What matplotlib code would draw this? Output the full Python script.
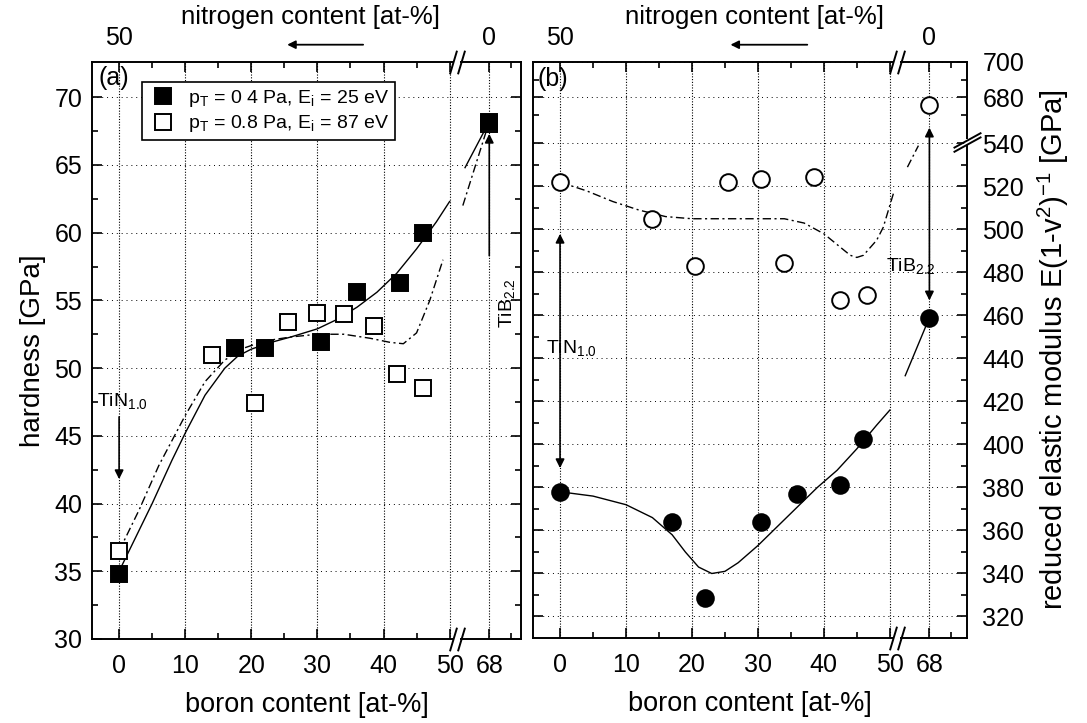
import numpy as np
import matplotlib
matplotlib.use("Agg")
import matplotlib.pyplot as plt
from matplotlib.path import Path
from matplotlib import transforms

plt.rcParams['font.family'] = ['Liberation Sans', 'DejaVu Sans']
plt.rcParams['mathtext.fontset'] = 'custom'
plt.rcParams['mathtext.rm'] = 'Liberation Sans'
plt.rcParams['mathtext.it'] = 'Liberation Sans:italic'

# (a) hardness, filled: p_T = 0.4 Pa, open: p_T = 0.8 Pa; 68 at-% B = TiB2.2
boron_h_filled = [0, 17.5, 22, 30.5, 36, 42.5, 46, 68]
hardness_filled = [34.8, 51.5, 51.5, 51.9, 55.6, 56.3, 60.0, 68.2]
boron_h_open = [0, 14, 20.5, 25.5, 30, 34, 38.5, 42, 46, 68]
hardness_open = [36.5, 51.0, 47.4, 53.4, 54.1, 54.0, 53.1, 49.6, 48.5, 68.0]

# fitted guide lines for the hardness (nan = gap at the axis break)
fit_h_x = [0, 2, 5, 8, 10, 13, 16, 18, 20, 23, 26, 30, 33, 36, 39, 42, 45, 48, 50, np.nan, 57, 68]
fit_h_filled = [35.0, 37.0, 40.0, 43.2, 45.2, 48.0, 50.0, 50.9, 51.4, 51.9, 52.3, 52.9, 53.6,
                54.5, 55.6, 57.0, 58.8, 60.8, 62.3, np.nan, 64.8, 68.2]
fit_h2_x = [0, 3, 6, 10, 13, 16, 19, 22, 26, 30, 34, 38, 41, 43, 45, 47, 49, np.nan, 56, 68]
fit_h_open = [36.5, 39.5, 42.8, 46.5, 49.0, 50.6, 51.5, 52.0, 52.3, 52.5, 52.5, 52.2, 51.9,
              51.8, 52.6, 55.0, 58.0, np.nan, 62.0, 68.2]

# (b) reduced elastic modulus [GPa]
boron_e_filled = [0, 17, 22, 30.5, 36, 42.5, 46, 68]
modulus_filled = [378, 364, 328.5, 364, 377, 381, 402.5, 459]
boron_e_open = [0, 14, 20.5, 25.5, 30.5, 34, 38.5, 42.5, 46.5, 68]
modulus_open = [522, 505, 483, 522, 523.5, 484.5, 524.5, 467, 469.5, 676]

fit_e_x = [0, 5, 10, 14, 17, 19, 21, 23, 25, 27, 30, 33, 36, 39, 42, 45, 48, 50, np.nan, 57, 68]
fit_e_filled = [378, 376, 372, 366, 358, 350, 343, 340, 341, 345, 353, 362, 371, 380, 388, 398,
                409, 416, np.nan, 432, 459]
fit_e2_x = [0, 4, 8, 12, 16, 20, 25, 30, 34, 37, 40, 42, 44, 45, 46, 48, 49, 52, np.nan, 58, 63]
fit_e_open = [522, 518, 513, 509, 506, 505, 505, 505, 505, 503, 498, 493, 488, 487, 488, 495,
              501, 518, np.nan, 529, 539]


def boron_fwd(x):
    x = np.asarray(x, dtype=float)
    return np.where(x <= 50, x, 50 + (x - 50) / 3.0)


def boron_inv(p):
    p = np.asarray(p, dtype=float)
    return np.where(p <= 50, p, 50 + (p - 50) * 3.0)


def mod_fwd(v):
    v = np.asarray(v, dtype=float)
    mid = 540 + (v - 540) * (4.9 / 120.0)
    top = 561.4 + (v - 680) * 0.825
    return np.where(v <= 540, v, np.where(v <= 660, mid, top))


def mod_inv(p):
    p = np.asarray(p, dtype=float)
    mid = 540 + (p - 540) * (120.0 / 4.9)
    top = 680 + (p - 561.4) / 0.825
    return np.where(p <= 540, p, np.where(p <= 544.9, mid, top))


slash = Path([(-0.32, -0.5), (-0.02, 0.5), (0.02, -0.5), (0.32, 0.5)],
             [Path.MOVETO, Path.LINETO, Path.MOVETO, Path.LINETO])
flat_slash = Path([(-0.5, -0.35), (0.5, 0.2), (-0.5, -0.2), (0.5, 0.35)],
                  [Path.MOVETO, Path.LINETO, Path.MOVETO, Path.LINETO])


def break_marks(ax, xb):
    tr = transforms.blended_transform_factory(ax.transData, ax.transAxes)
    for yb in (0, 1):
        ax.plot([xb], [yb], transform=tr, marker='_', ms=4, mew=4, color='white',
                clip_on=False, zorder=6)
        ax.plot([xb], [yb], transform=tr, marker=slash, ms=17, mew=1.4, color='k',
                mfc='none', clip_on=False, zorder=7)


def style_axis(ax):
    for sp in ax.spines.values():
        sp.set_linewidth(1.4)
    ax.tick_params(which='both', direction='in', top=True, right=True, width=1.2,
                   labelsize=18)
    ax.tick_params(which='major', length=7)
    ax.tick_params(which='minor', length=4)
    ax.tick_params(axis='x', pad=11)
    ax.tick_params(axis='y', pad=7)
    ax.grid(True, which='major', axis='x', color='k', lw=0.8, linestyle=(0, (1, 1.5)))
    ax.grid(True, which='major', axis='y', color='k', lw=0.7, linestyle=(0, (1, 4)))
    ax.set_axisbelow(True)
    ax.set_xscale('function', functions=(boron_fwd, boron_inv))
    ax.set_xticks([0, 10, 20, 30, 40, 50, 68])
    ax.set_xticklabels(['0', '10', '20', '30', '40', '50', '68'])
    ax.set_xticks([5, 15, 25, 35, 45, 78], minor=True)
    ax.set_xlabel('boron content [at-%]', fontsize=19.5, labelpad=10)
    break_marks(ax, 53.2)
    top = transforms.blended_transform_factory(ax.transData, ax.transAxes)
    ax.text(0, 1.042, '50', transform=top, ha='center', va='center', fontsize=18)
    ax.text(68, 1.042, '0', transform=top, ha='center', va='center', fontsize=18)
    ax.text(0.51, 1.078, 'nitrogen content [at-%]', transform=ax.transAxes,
            ha='center', va='center', fontsize=18.5)
    ax.annotate('', xy=(0.455, 1.03), xytext=(0.632, 1.03), xycoords='axes fraction',
                arrowprops=dict(arrowstyle='-|>', lw=1.3, color='k', mutation_scale=12,
                                shrinkA=0, shrinkB=0), annotation_clip=False)


arrow_kw = dict(arrowstyle='-|>', lw=1.2, color='k', mutation_scale=13, shrinkA=0, shrinkB=0)
both_kw = dict(arrowstyle='<|-|>', lw=1.2, color='k', mutation_scale=13, shrinkA=0, shrinkB=0)

fig = plt.figure(figsize=(10.87, 7.23), dpi=100)
ax1 = fig.add_axes([92 / 1087, 1 - 639 / 723, (521 - 92) / 1087, (639 - 62) / 723])
ax2 = fig.add_axes([533 / 1087, 1 - 638 / 723, (967 - 533) / 1087, (638 - 62) / 723])

# (a) hardness
style_axis(ax1)
ax1.set_xlim(-4.1, 82.4)
ax1.set_ylim(30, 72.6)
ax1.set_yticks(np.arange(30, 71, 5))
ax1.set_yticks(np.arange(32.5, 71, 5), minor=True)
ax1.set_ylabel('hardness [GPa]', fontsize=20, labelpad=6)

ax1.plot(fit_h_x, fit_h_filled, color='k', lw=1.0)
ax1.plot(fit_h2_x, fit_h_open, color='k', lw=1.0, linestyle=(0, (6, 2.5, 1.5, 2.5)))
ax1.plot(boron_h_open, hardness_open, 's', ms=11.5, mfc='white', mec='k', mew=1.4,
         label=r'p$_{\rm T}$ = 0.8 Pa, E$_{\rm i}$ = 87 eV')
ax1.plot(boron_h_filled, hardness_filled, 's', ms=11.5, mfc='k', mec='k', mew=1.4,
         label=r'p$_{\rm T}$ = 0 4 Pa, E$_{\rm i}$ = 25 eV')
handles, labels = ax1.get_legend_handles_labels()
leg = ax1.legend(handles[::-1], labels[::-1], loc='upper left', bbox_to_anchor=(0.117, 0.965),
                 borderaxespad=0, fontsize=14, frameon=True, fancybox=False,
                 edgecolor='k', framealpha=1, markerscale=1.0, handletextpad=0.55,
                 handlelength=1.5, borderpad=0.3, labelspacing=0.22)
leg.get_frame().set_linewidth(1.2)

ax1.text(0.05, 0.972, '(a)', transform=ax1.transAxes, ha='center', va='center', fontsize=18)
ax1.text(-3.3, 47.6, r'TiN$_{1.0}$', ha='left', va='center', fontsize=14)
ax1.annotate('', xy=(0, 41.8), xytext=(0, 46.4), arrowprops=arrow_kw)
ax1.text(76, 54.8, r'TiB$_{2.2}$', ha='center', va='center', fontsize=14, rotation=90)
ax1.annotate('', xy=(68, 67.3), xytext=(68, 58.3), arrowprops=arrow_kw)

# (b) reduced elastic modulus
style_axis(ax2)
ax2.set_yscale('function', functions=(mod_fwd, mod_inv))
ax2.set_xlim(-4.1, 85.1)
ax2.set_ylim(310, 700)
ax2.set_yticks(list(range(320, 541, 20)) + [680, 700])
ax2.set_yticks(list(range(330, 540, 20)) + [670, 690], minor=True)
ax2.tick_params(axis='y', labelleft=False, labelright=True, pad=11)
ax2.yaxis.set_label_position('right')
ax2.set_ylabel(r'reduced elastic modulus E(1-v$^2$)$^{-1}$ [GPa]', fontsize=21,
               rotation=90, labelpad=8)

ax2.plot(fit_e_x, fit_e_filled, color='k', lw=1.0)
ax2.plot(fit_e2_x, fit_e_open, color='k', lw=1.0, linestyle=(0, (6, 2.5, 1.5, 2.5)))
ax2.plot(boron_e_open, modulus_open, 'o', ms=12, mfc='white', mec='k', mew=1.4)
ax2.plot(boron_e_filled, modulus_filled, 'o', ms=12, mfc='k', mec='k', mew=1.4)

ax2.text(0.046, 0.97, '(b)', transform=ax2.transAxes, ha='center', va='center', fontsize=18)
ax2.text(-2.2, 445, r'TiN$_{1.0}$', ha='left', va='center', fontsize=14)
ax2.annotate('', xy=(0, 498), xytext=(0, 389), arrowprops=both_kw)
ax2.text(59.5, 483, r'TiB$_{2.2}$', ha='center', va='center', fontsize=14)
ax2.annotate('', xy=(68, 663), xytext=(68, 467), arrowprops=both_kw)

# break of the modulus axis
ytr = transforms.blended_transform_factory(ax2.transAxes, ax2.transData)
ax2.plot([1], [560], transform=ytr, marker='|', ms=5, mew=4, color='white',
         clip_on=False, zorder=6)
ax2.plot([1], [560], transform=ytr, marker=flat_slash, ms=20, mew=1.4, color='k',
         mfc='none', clip_on=False, zorder=7)

fig.savefig('out.png', dpi=100)
